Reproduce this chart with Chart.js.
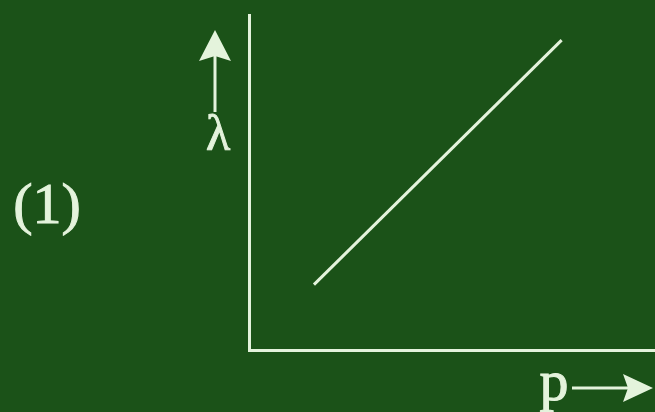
<!DOCTYPE html>
<html>
<head>
<meta charset="utf-8">
<style>
html,body{margin:0;padding:0;background:#1b5218;}
#wrap{width:655px;height:412px;position:relative;}
</style>
<script src="https://cdn.jsdelivr.net/npm/chart.js@4"></script>
</head>
<body>
<div id="wrap"><canvas id="c" width="655" height="412"></canvas></div>
<script>
// Data
const pValues = [1.6, 7.7];
const lambdaValues = [1.95, 9.25];
const xLabel = 'p';
const yLabel = 'λ';
const panelLabel = '(1)';

const ink = '#e4f3dc';
const bg = '#1b5218';

function boldText(ctx, txt, x, y) {
  ctx.fillText(txt, x, y);
  ctx.lineWidth = 1;
  ctx.strokeText(txt, x, y);
}

const decor = {
  id: 'decor',
  beforeDraw(chart) {
    const ctx = chart.ctx;
    ctx.save();
    ctx.fillStyle = bg;
    ctx.fillRect(0, 0, chart.width, chart.height);
    ctx.restore();
  },
  afterDraw(chart) {
    const ctx = chart.ctx;
    const a = chart.chartArea;
    ctx.save();
    ctx.fillStyle = ink;
    ctx.strokeStyle = ink;
    ctx.textAlign = 'center';
    ctx.textBaseline = 'middle';
    // panel label
    ctx.font = '58px "Liberation Serif", "DejaVu Serif", serif';
    boldText(ctx, panelLabel, 47, 208);
    // y label with up arrow
    ctx.font = '50px "Liberation Serif", "DejaVu Serif", serif';
    const yx = a.left - 34;
    boldText(ctx, yLabel, yx + 3, 137);
    ctx.lineWidth = 3;
    ctx.beginPath();
    ctx.moveTo(yx, 112);
    ctx.lineTo(yx, 55);
    ctx.stroke();
    ctx.beginPath();
    ctx.moveTo(yx, 30);
    ctx.lineTo(yx + 16, 61);
    ctx.lineTo(yx, 56);
    ctx.lineTo(yx - 16, 61);
    ctx.closePath();
    ctx.fill();
    // x label with right arrow
    ctx.font = '58px "Liberation Serif", "DejaVu Serif", serif';
    boldText(ctx, xLabel, 554, 385);
    ctx.lineWidth = 3;
    ctx.beginPath();
    ctx.moveTo(572, 388);
    ctx.lineTo(628, 388);
    ctx.stroke();
    ctx.beginPath();
    ctx.moveTo(653, 388);
    ctx.lineTo(623, 374);
    ctx.lineTo(628, 388);
    ctx.lineTo(623, 402);
    ctx.closePath();
    ctx.fill();
    ctx.restore();
  }
};

new Chart(document.getElementById('c'), {
  type: 'line',
  data: {
    datasets: [{
      data: pValues.map((p, i) => ({x: p, y: lambdaValues[i]})),
      borderColor: ink,
      borderWidth: 3,
      pointRadius: 0,
      fill: false,
      tension: 0
    }]
  },
  options: {
    responsive: false,
    animation: false,
    devicePixelRatio: 1,
    layout: {padding: {left: 249, top: 15, right: 0, bottom: 62}},
    plugins: {legend: {display: false}, tooltip: {enabled: false}},
    scales: {
      x: {
        type: 'linear', min: 0, max: 10,
        ticks: {display: false},
        grid: {display: false, drawTicks: false},
        border: {display: true, color: ink, width: 3}
      },
      y: {
        type: 'linear', min: 0, max: 10,
        ticks: {display: false},
        grid: {display: false, drawTicks: false},
        border: {display: true, color: ink, width: 3}
      }
    }
  },
  plugins: [decor]
});
</script>
</body>
</html>
